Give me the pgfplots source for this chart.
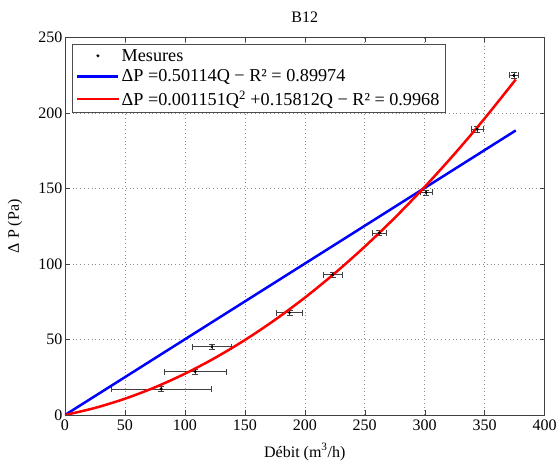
\documentclass[border=0pt]{standalone}
\usepackage{pgfplots}
\pgfplotsset{compat=1.18}
\usepackage{fontspec}
\setmainfont{Liberation Serif}
\begin{document}
\begin{tikzpicture}
\begin{axis}[name=ax, scale only axis, width=479.5pt, height=377.5pt,
  xmin=0, xmax=400, ymin=0, ymax=250,
  xtick={0,50,...,400}, ytick={0,50,...,250},
  grid=major, major grid style={dash pattern=on 0.8pt off 3pt, gray!90},
  tick align=inside, tick style={gray!50!black}, major tick length=5pt,
  axis line style={gray!50!black},
  title={B12}, title style={font=\fontsize{16}{18}\selectfont, at={(axis description cs:0.5,1)}, anchor=base, yshift=8.5pt},
  xlabel={Débit (m\textsuperscript{3}/h)}, ylabel={Δ P (Pa)},
  xlabel style={font=\fontsize{16}{18}\selectfont, at={(axis description cs:0.5,0)}, anchor=base, yshift=-42pt},
  ylabel style={font=\fontsize{16}{18}\selectfont, at={([xshift=-50pt]axis description cs:0,0.5)}, anchor=center},
  ticklabel style={font=\fontsize{16}{18}\selectfont},
  xticklabel style={yshift=-1pt},
  yticklabel style={xshift=1pt},
  /pgf/number format/assume math mode=true,
  legend style={at={(0.0146,0.983)}, anchor=north west, draw=gray!60!black,
    font=\fontsize{18.2}{20}\selectfont, cells={anchor=west}, row sep=3.3pt, inner xsep=4pt, inner ysep=3pt},
  legend image code/.code={\draw[mark repeat=2,mark phase=2,#1] plot coordinates {(0pt,0pt) (20.5pt,0pt) (41pt,0pt)};},
]
\addplot[only marks, mark=*, mark size=1.3pt, black,
  error bars/.cd, x dir=both, x explicit, y dir=both, y explicit,
  error bar style={gray!50!black, line width=0.6pt}, error mark options={gray!50!black, rotate=90, mark size=3pt}]
  table[x=x, y=y, x error=ex, y error=ey] {
x y ex ey
80.2 17.3 42 1.8
108.6 28.8 26 1.8
122.5 45.2 16.5 1.8
187.3 67.8 10.7 1.8
223.2 92.9 8 1.8
262.2 120.6 6 1.8
301.2 147.4 5 1.8
343.8 189.3 5 1.8
374.4 224.9 4 1.8
};
\addlegendentry{Mesures}
\addplot[blue, line width=2.5pt] coordinates {(0,0) (376,188.43)};
\addlegendentry{ΔP =0.50114Q − R² = 0.89974}
\addplot[red, line width=2.5pt, smooth] coordinates {
(0,0) (25,4.672) (50,10.78) (75,18.33) (100,27.32) (125,37.75) (150,49.62)
(175,62.92) (200,77.66) (225,93.85) (250,111.47) (275,130.53) (300,151.03)
(325,172.96) (350,196.34) (376,222.18)};
\addlegendentry{ΔP =0.001151Q\textsuperscript{2} +0.15812Q − R² = 0.9968}
\end{axis}
\path ([xshift=-65pt,yshift=-51pt]ax.south west) rectangle ([xshift=15.5pt,yshift=37.5pt]ax.north east);
\end{tikzpicture}
\end{document}
